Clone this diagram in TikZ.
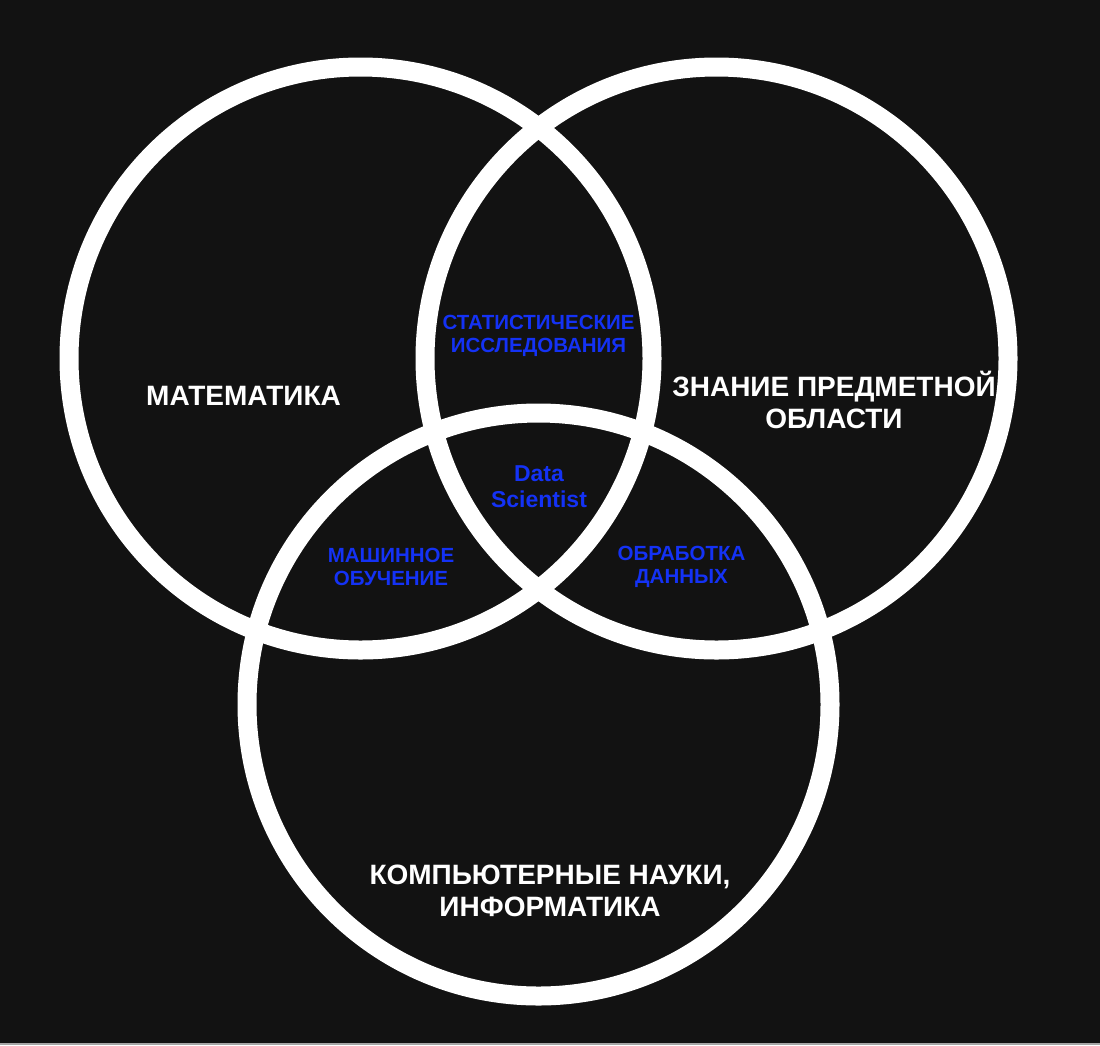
\documentclass[tikz,border=0pt]{standalone}
\usepackage{fontspec}
\setmainfont{Liberation Sans}
\definecolor{bgdark}{HTML}{121212}
\definecolor{lblue}{HTML}{1432F5}
\begin{document}
\begin{tikzpicture}[x=1pt,y=-1pt,
  ring/.style={circle,draw=white,line width=19pt,minimum size=583pt,inner sep=0pt,outer sep=0pt},
  mainlabel/.style={text=white,align=center,inner sep=0pt,font=\bfseries\fontsize{28}{32}\selectfont},
  sublabel/.style={text=lblue,align=center,inner sep=0pt,font=\bfseries\fontsize{20.5}{23.5}\selectfont},
  dslabel/.style={text=lblue,align=center,inner sep=0pt,font=\bfseries\fontsize{23}{26}\selectfont}]
\fill[bgdark] (0,0) rectangle (1100,1045);
\fill[gray!70] (0,1043) rectangle (1100,1045);
\useasboundingbox (0,0) rectangle (1100,1045);
\node[ring] (math) at (360.5,358.5) {};
\node[ring] (domain) at (716.5,358.5) {};
\node[ring] (cs) at (538.5,704.5) {};
\node[mainlabel] (mathlabel) at (243.5,396) {МАТЕМАТИКА};
\node[mainlabel] (domainlabel) at (834,400) {ЗНАНИЕ ПРЕДМЕТНОЙ\\ОБЛАСТИ};
\node[mainlabel] (cslabel) at (550,891) {КОМПЬЮТЕРНЫЕ НАУКИ,\\ИНФОРМАТИКА};
\node[sublabel] (stat) at (538.5,336) {СТАТИСТИЧЕСКИЕ\\ИССЛЕДОВАНИЯ};
\node[sublabel] (ml) at (391,567) {МАШИННОЕ\\ОБУЧЕНИЕ};
\node[sublabel] (dp) at (681.5,567) {ОБРАБОТКА\\ДАННЫХ};
\node[dslabel] (ds) at (539,487) {Data\\Scientist};
\end{tikzpicture}
\end{document}
